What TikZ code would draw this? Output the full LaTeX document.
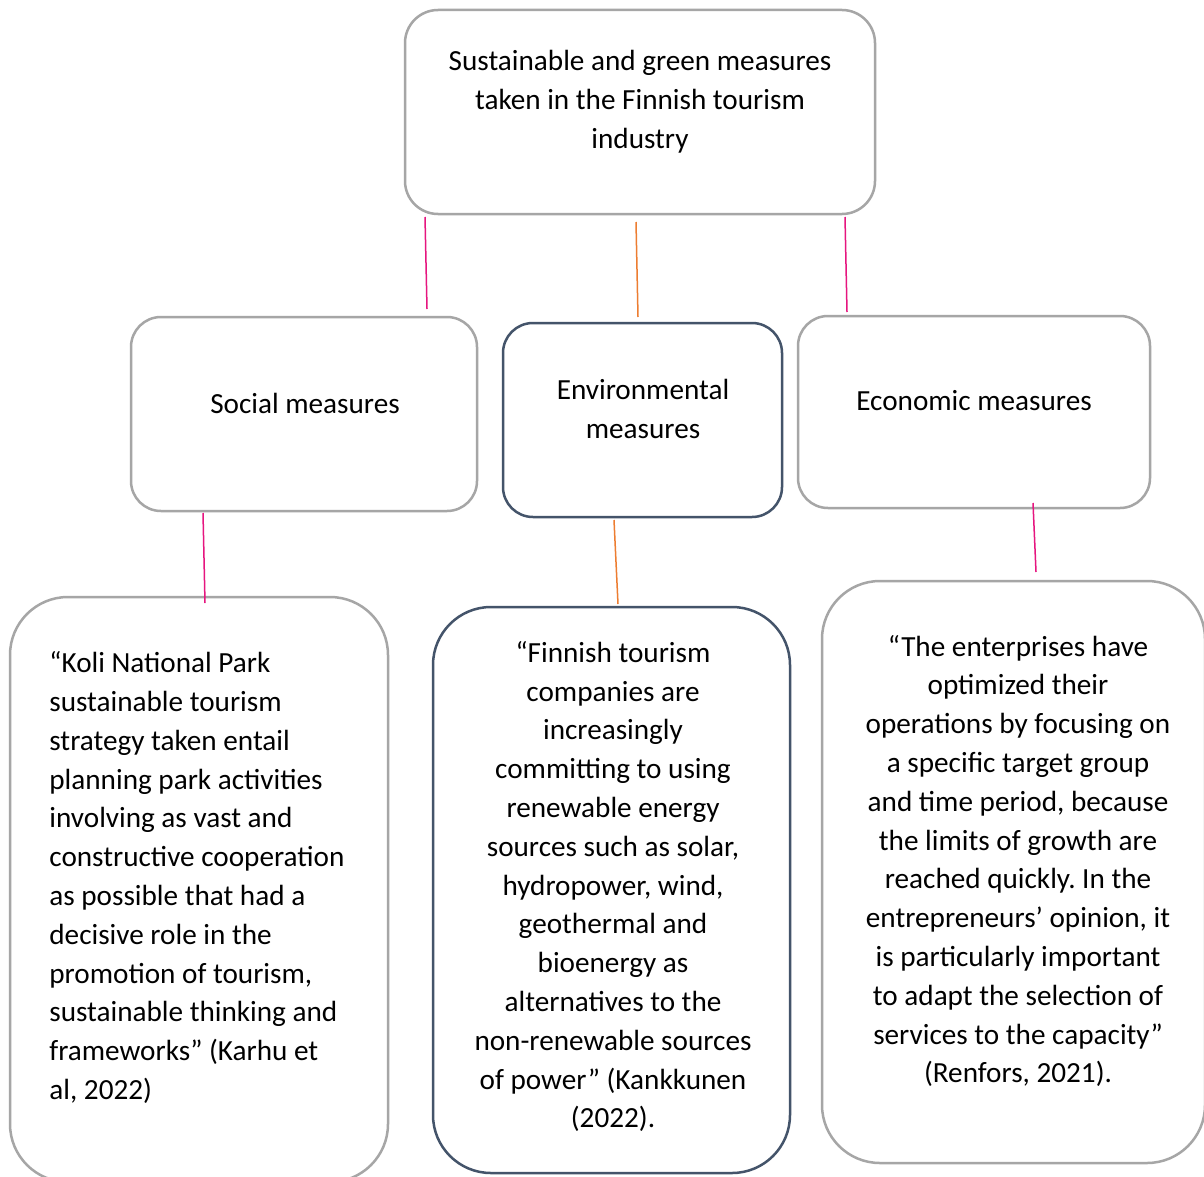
\documentclass[tikz,border=0pt]{standalone}
\usepackage{fontspec}
\setmainfont{Carlito}
\frenchspacing
\definecolor{boxgrey}{HTML}{A6A6A6}
\definecolor{boxdark}{HTML}{44546A}
\definecolor{linkpink}{HTML}{E6157F}
\definecolor{linkorange}{HTML}{ED7D31}
\begin{document}
\begin{tikzpicture}[x=0.5pt,y=-0.5pt,
  gbox/.style={draw=boxgrey, line width=1.25pt, inner sep=0pt},
  dbox/.style={draw=boxdark, line width=1.25pt, inner sep=0pt},
  txt/.style={font=\fontsize{14.6pt}{19.4pt}\selectfont\frenchspacing, inner sep=0pt, align=center, text=black},
  pinklink/.style={draw=linkpink, line width=0.75pt},
  orangelink/.style={draw=linkorange, line width=0.75pt}]
\useasboundingbox (0,0) rectangle (1204,1177);
\clip (0,0) rectangle (1204,1177);
\fill[white] (0,0) rectangle (1204,1177);

% boxes
\node[gbox, rounded corners=16.5pt, minimum width=235pt, minimum height=102pt] (top) at (640,112) {};
\node[gbox, rounded corners=15pt, minimum width=173pt, minimum height=97pt] (social) at (304,414) {};
\node[dbox, rounded corners=15pt, minimum width=139.5pt, minimum height=97pt] (env) at (642.5,420) {};
\node[gbox, rounded corners=15pt, minimum width=176pt, minimum height=96pt] (econ) at (974,412) {};
\node[gbox, rounded corners=29pt, minimum width=189pt, minimum height=292.5pt] (leftB) at (199,889.5) {};
\node[dbox, rounded corners=29pt, minimum width=178.5pt, minimum height=283pt] (midB) at (611.5,890) {};
\node[gbox, rounded corners=29pt, minimum width=191.5pt, minimum height=291pt] (rightB) at (1013.5,872) {};

% texts
\node[txt] (topT) at (640,102) {Sustainable and green measures\\taken in the Finnish tourism\\industry};
\node[txt] (socialT) at (305,403) {Social measures};
\node[txt] (envT) at (643,409) {Environmental\\measures};
\node[txt] (econT) at (974,401) {Economic measures};
\node[txt, align=left, anchor=west] (leftT) at (49,877.5) {“Koli National Park\\sustainable tourism\\strategy taken entail\\planning park activities\\involving as vast and\\constructive cooperation\\as possible that had a\\decisive role in the\\promotion of tourism,\\sustainable thinking and\\frameworks” (Karhu et\\al, 2022)};
\node[txt] (midT) at (613,886.5) {“Finnish tourism\\companies are\\increasingly\\committing to using\\renewable energy\\sources such as solar,\\hydropower, wind,\\geothermal and\\bioenergy as\\alternatives to the\\non-renewable sources\\of power” (Kankkunen\\(2022).};
\node[txt] (rightT) at (1018,861) {“The enterprises have\\optimized their\\operations by focusing on\\a specific target group\\and time period, because\\the limits of growth are\\reached quickly. In the\\entrepreneurs’ opinion, it\\is particularly important\\to adapt the selection of\\services to the capacity”\\(Renfors, 2021).};

% connector ends
\coordinate (l1a) at (425,217); \coordinate (l1b) at (427,309);
\coordinate (l2a) at (636,222); \coordinate (l2b) at (638,317);
\coordinate (l3a) at (845,217); \coordinate (l3b) at (847,312);
\coordinate (l4a) at (203,513); \coordinate (l4b) at (205,603);
\coordinate (l5a) at (614,520); \coordinate (l5b) at (618,604);
\coordinate (l6a) at (1033,503); \coordinate (l6b) at (1036,572);

\draw[pinklink] (l1a) -- (l1b);
\draw[orangelink] (l2a) -- (l2b);
\draw[pinklink] (l3a) -- (l3b);
\draw[pinklink] (l4a) -- (l4b);
\draw[orangelink] (l5a) -- (l5b);
\draw[pinklink] (l6a) -- (l6b);
\end{tikzpicture}
\end{document}
